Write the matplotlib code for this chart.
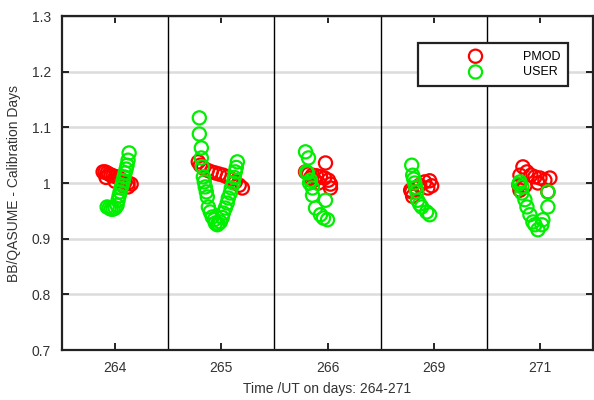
import numpy as np
import matplotlib
matplotlib.use('Agg')
import matplotlib.pyplot as plt
from matplotlib.ticker import FuncFormatter

plt.rcParams['font.family'] = ['Liberation Sans', 'DejaVu Sans']
plt.rcParams['font.size'] = 10

#   calibration days, x position of each point is day slot + offset
days = ['264', '265', '266', '269', '271']

pmod_off = [
    [-0.113, -0.094, -0.075, -0.056, -0.038, -0.019, 0.009, 0.038, 0.066, 0.094, 0.122, 0.151,
     -0.085, 0.0, 0.075, 0.122],
    [-0.217, -0.198, -0.169, -0.132, -0.094, -0.056, -0.019, 0.019, 0.056, 0.094, 0.132, 0.169, 0.198],
    [-0.207, -0.179, -0.141, -0.104, -0.066, -0.028, 0.009, 0.028, -0.019, -0.160, -0.122, -0.085, 0.028],
    [-0.217, -0.207, -0.169, -0.132, -0.085, -0.038, -0.019, -0.056, -0.198],
    [-0.188, -0.160, -0.122, -0.085, -0.047, 0.0, 0.047, 0.094, -0.188, -0.141, 0.075, -0.019, -0.198],
]
pmod_val = [
    [1.020, 1.020, 1.018, 1.016, 1.014, 1.013, 1.011, 1.009, 1.005, 1.002, 1.000, 0.998,
     1.010, 1.003, 0.995, 0.993],
    [1.038, 1.032, 1.027, 1.023, 1.020, 1.018, 1.016, 1.014, 1.011, 1.007, 1.002, 0.996, 0.991],
    [1.020, 1.016, 1.014, 1.013, 1.011, 1.009, 1.005, 0.998, 1.036, 1.009, 1.005, 1.000, 0.991],
    [0.987, 0.984, 0.991, 0.996, 1.002, 1.004, 0.995, 0.991, 0.976],
    [1.014, 1.029, 1.020, 1.014, 1.011, 1.009, 1.005, 1.009, 0.987, 0.995, 0.984, 1.000, 0.996],
]

user_off = [
    [-0.075, -0.056, -0.038, -0.019, 0.0, 0.019, 0.028, 0.038, 0.047, 0.056, 0.066, 0.075, 0.085, 0.094, 0.104, 0.113, 0.122, 0.132],
    [-0.207, -0.207, -0.188, -0.188, -0.179, -0.169, -0.160, -0.151, -0.141, -0.132, -0.122, -0.104, -0.085, -0.066, -0.056,
     -0.038, -0.028, -0.009, 0.009, 0.019, 0.038, 0.056, 0.066, 0.085, 0.094, 0.113, 0.122, 0.132, 0.141, 0.151],
    [-0.207, -0.179, -0.188, -0.198, -0.160, -0.169, -0.141, -0.141, -0.113, -0.019, -0.066, 0.0, -0.038],
    [-0.207, -0.198, -0.188, -0.179, -0.169, -0.160, -0.151, -0.132, -0.113, -0.066, -0.038],
    [-0.188, -0.169, -0.169, 0.075, 0.075, -0.122, -0.094, -0.066, -0.019, 0.019, 0.028, -0.198, -0.141, -0.047],
]
user_val = [
    [0.957, 0.955, 0.953, 0.953, 0.955, 0.960, 0.969, 0.977, 0.984, 0.991, 0.996, 1.004, 1.011, 1.018, 1.025, 1.032, 1.041, 1.054],
    [1.117, 1.088, 1.063, 1.045, 1.029, 1.011, 1.002, 0.993, 0.984, 0.975, 0.957, 0.948, 0.939, 0.934, 0.928,
     0.925, 0.927, 0.930, 0.938, 0.946, 0.955, 0.964, 0.973, 0.982, 0.991, 1.000, 1.010, 1.020, 1.028, 1.038],
    [1.056, 1.045, 1.018, 1.020, 1.005, 1.000, 0.991, 0.978, 0.955, 0.969, 0.943, 0.934, 0.937],
    [1.032, 1.014, 1.007, 1.000, 0.992, 0.984, 0.969, 0.962, 0.957, 0.948, 0.943],
    [1.002, 0.993, 0.982, 0.984, 0.957, 0.957, 0.943, 0.930, 0.916, 0.925, 0.934, 0.998, 0.970, 0.925],
]

fig = plt.figure(figsize=(5.94, 4.0), dpi=100)
ax = fig.add_axes([62/594, 50/400, 531/594, 334/400])

msize = 90
for i in range(len(days)):
    x = i + 1 + np.array(pmod_off[i])
    ax.scatter(x, pmod_val[i], s=msize, facecolors='none', edgecolors='#ff0000',
               linewidths=1.6, zorder=3, label='PMOD' if i == 0 else None)
for i in range(len(days)):
    x = i + 1 + np.array(user_off[i])
    ax.scatter(x, user_val[i], s=msize, facecolors='none', edgecolors='#00ee00',
               linewidths=1.6, zorder=4, label='USER' if i == 0 else None)

#   day separators
for i in range(1, len(days)):
    ax.axvline(i + 0.5, color='black', lw=1.0, zorder=2)

ax.set_xlim(0.5, len(days) + 0.5)
ax.set_ylim(0.7, 1.3)
ax.set_xticks(range(1, len(days) + 1))
ax.set_xticklabels(days)
ax.set_yticks(np.arange(0.7, 1.31, 0.1))
ax.yaxis.set_major_formatter(FuncFormatter(lambda v, p: '%g' % round(v, 1)))
ax.yaxis.grid(True, color='#dcdcdc', lw=1.8, zorder=0)
ax.set_axisbelow(True)
ax.tick_params(direction='in', length=5, width=1.2, top=True, right=True,
               colors='black', labelcolor='#333333', pad=8)
for s in ax.spines.values():
    s.set_linewidth(1.6)
    s.set_color('#222222')

ax.set_xlabel('Time /UT on days: 264-271', color='#333333', labelpad=5)
ax.set_ylabel('BB/QASUME - Calibration Days', color='#333333', labelpad=8)

leg = ax.legend(loc='upper right', bbox_to_anchor=((568 - 62) / 531, (350 - 43) / 334),
                borderaxespad=0, fancybox=False, framealpha=1, edgecolor='#222222',
                handlelength=8.0, handletextpad=-0.2, borderpad=0.6, labelspacing=0.3,
                scatterpoints=1, fontsize=9)
leg.get_frame().set_linewidth(1.6)

plt.savefig('out.png', dpi=100)
